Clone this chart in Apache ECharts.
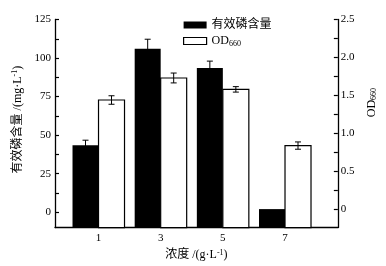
<!DOCTYPE html>
<html>
<head>
<meta charset="utf-8">
<script src="https://cdn.jsdelivr.net/npm/echarts@6/dist/echarts.min.js"></script>
<style>
html, body { margin: 0; padding: 0; background: #fff; }
#chart { width: 386px; height: 266px; }
</style>
</head>
<body>
<div id="chart"></div>
<script>
var concentrations = [1, 3, 5, 7];
var phosphorus = [43.5, 106, 93.5, 2];
var phosphorusErr = [3.2, 6.2, 4.5, 0];
var od660 = [1.44, 1.73, 1.58, 0.84];
var od660Err = [0.056, 0.065, 0.036, 0.048];
var leftTicks = [0, 25, 50, 75, 100, 125];
var rightTicks = [0, 0.5, 1, 1.5, 2, 2.5];

var FONT = '"Liberation Serif", "Noto Sans CJK SC", serif';
var BAR_W = 26;
var blackStyle = { color: '#000' };
var whiteStyle = { color: '#fff', borderColor: '#000', borderWidth: 1.2 };

// major ticks plus one minor tick between each pair
function withMinor(ticks) {
    var out = [];
    for (var i = 0; i < ticks.length; i++) {
        out.push(ticks[i]);
        if (i < ticks.length - 1) out.push((ticks[i] + ticks[i + 1]) / 2);
    }
    return out;
}

// bars rise from the bottom of the frame (below zero), so they are drawn
// as custom rects whose base is the grid bottom, with the error bar on top
function barSeries(name, yIndex, values, errs, side, style) {
    return {
        name: name,
        type: 'custom',
        yAxisIndex: yIndex,
        itemStyle: style,
        data: concentrations.map(function (c, i) { return [c, values[i], errs[i]]; }),
        renderItem: function (params, api) {
            var top = api.coord([api.value(0), api.value(1)]);
            var base = params.coordSys.y + params.coordSys.height;
            var x0 = side < 0 ? top[0] - BAR_W : top[0];
            var kids = [{
                type: 'rect',
                shape: { x: x0, y: top[1], width: BAR_W, height: base - top[1] },
                style: api.style()
            }];
            var err = api.value(2);
            if (err) {
                var hi = api.coord([api.value(0), api.value(1) + err])[1];
                var lo = api.coord([api.value(0), api.value(1) - err])[1];
                var x = top[0] + side * BAR_W / 2;
                var cap = 3;
                var st = { stroke: '#000', lineWidth: 1 };
                kids.push(
                    { type: 'line', shape: { x1: x, y1: hi, x2: x, y2: lo }, style: st },
                    { type: 'line', shape: { x1: x - cap, y1: hi, x2: x + cap, y2: hi }, style: st },
                    { type: 'line', shape: { x1: x - cap, y1: lo, x2: x + cap, y2: lo }, style: st }
                );
            }
            return { type: 'group', children: kids };
        }
    };
}

var axisLine = { show: true, onZero: false, lineStyle: { color: '#000', width: 1.3 } };
var nameRich = {
    t: { fontSize: 12, fontFamily: FONT, color: '#000' },
    p: { fontSize: 8, fontFamily: FONT, color: '#000', verticalAlign: 'top', padding: [0, 0, 5, 0] },
    s: { fontSize: 8, fontFamily: FONT, color: '#000', verticalAlign: 'bottom', padding: [5, 0, 0, 0] }
};

var options = {
    animation: false,
    textStyle: { fontFamily: FONT, color: '#000' },
    grid: { left: 55, right: 45, top: 19.5, bottom: 36.5 },
    legend: {
        orient: 'vertical',
        left: 178,
        top: 14,
        itemWidth: 23,
        itemHeight: 7,
        itemGap: 4,
        icon: 'rect',
        data: [
            { name: '有效磷含量', itemStyle: blackStyle },
            { name: 'OD660', itemStyle: whiteStyle }
        ],
        formatter: function (name) {
            return name === 'OD660' ? '{t|OD}{s|660}' : '{t|' + name + '}';
        },
        textStyle: { fontFamily: FONT, color: '#000', rich: nameRich }
    },
    xAxis: {
        type: 'value',
        min: -0.4,
        max: 8.7,
        name: '{t|浓度 /(g·L}{p|-1}{t|)}',
        nameLocation: 'middle',
        nameGap: 17,
        nameTextStyle: { rich: nameRich },
        axisLine: axisLine,
        axisTick: { show: false },
        splitLine: { show: false },
        axisLabel: { customValues: concentrations, fontSize: 11, margin: 5, color: '#000', fontFamily: FONT }
    },
    yAxis: [{
        type: 'value',
        position: 'left',
        min: -10,
        max: 125,
        name: '{t|有效磷含量 /(mg·L}{p|-1}{t|)}',
        nameLocation: 'middle',
        nameGap: 24,
        nameTextStyle: { padding: [0, 0, 0, 8], rich: nameRich },
        axisLine: axisLine,
        splitLine: { show: false },
        axisTick: { inside: true, length: 4, customValues: withMinor(leftTicks), lineStyle: { color: '#000', width: 1.2 } },
        axisLabel: { customValues: leftTicks, fontSize: 11, margin: 4, color: '#000', fontFamily: FONT }
    }, {
        type: 'value',
        position: 'right',
        min: -0.24,
        max: 2.5,
        name: '{t|OD}{s|660}',
        nameLocation: 'middle',
        nameGap: 21,
        nameTextStyle: { padding: [0, 0, 0, 42], rich: nameRich },
        axisLine: axisLine,
        splitLine: { show: false },
        axisTick: { inside: true, length: 4, customValues: withMinor(rightTicks), lineStyle: { color: '#000', width: 1.2 } },
        axisLabel: {
            customValues: rightTicks,
            fontSize: 11,
            margin: 3,
            color: '#000',
            fontFamily: FONT,
            formatter: function (v) { return v === 0 ? '0' : v.toFixed(1); }
        }
    }],
    series: [
        barSeries('有效磷含量', 0, phosphorus, phosphorusErr, -1, blackStyle),
        barSeries('OD660', 1, od660, od660Err, 1, whiteStyle)
    ]
};

var chart = echarts.init(document.getElementById('chart'));
chart.setOption(options);
</script>
</body>
</html>
